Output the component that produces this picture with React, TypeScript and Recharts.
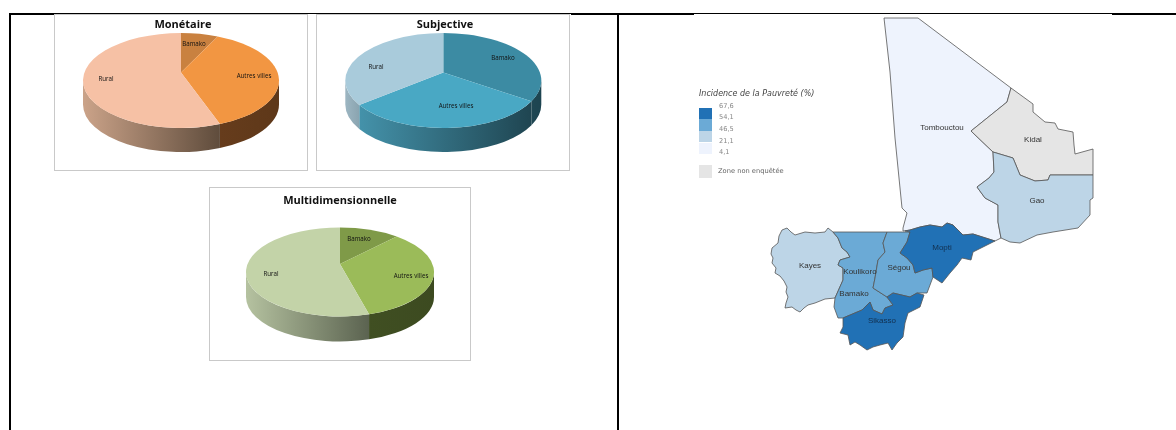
import React from "react";
import { PieChart, Pie, ScatterChart, Scatter, XAxis, YAxis } from "recharts";

// ---- data ----
const sliceNames = ["Bamako", "Autres villes", "Rural"];
const monetaireValues = [6.1, 37.4, 56.5];
const subjectiveValues = [32.2, 34.2, 33.6];
const multiValues = [10.3, 34.7, 55];

const legendTitle = "Incidence de la Pauvreté (%)";
const legendLabels = ["67,6", "54,1", "46,5", "21,1", "4,1"];
const legendOther = "Zone non enquêtée";

const tombouctou = [[884,18],[918,18],[1011,88],[1007,102],[971,131],[993,152],[994,172],[989,178],[977,187],[985,198],[998,205],[998,222],[1001,238],[995,241],[973,234],[963,235],[953,225],[947,223],[942,227],[930,225],[920,227],[910,230],[903,231],[903,228],[907,213],[902,208],[895,138],[890,72]];
const kidal = [[1011,88],[1033,104],[1033,112],[1045,122],[1055,123],[1058,129],[1073,132],[1074,145],[1075,154],[1093,149],[1093,175],[1050,175],[1048,180],[1035,181],[1020,175],[1013,158],[993,152],[971,131],[1007,102]];
const gao = [[993,152],[1013,158],[1020,175],[1035,181],[1048,180],[1050,175],[1093,175],[1093,198],[1090,200],[1090,215],[1078,228],[1053,232],[1037,235],[1020,243],[1010,242],[1001,238],[998,222],[998,205],[985,198],[977,187],[989,178],[994,172]];
const kayes = [[828,228],[833,232],[838,238],[842,248],[847,252],[850,257],[840,260],[838,265],[843,268],[843,280],[835,298],[825,299],[815,303],[808,305],[804,308],[800,312],[796,310],[792,307],[785,308],[786,303],[788,297],[786,292],[787,287],[784,281],[780,276],[775,273],[776,268],[772,263],[773,258],[771,254],[772,248],[778,243],[779,236],[782,230],[787,228],[791,232],[795,235],[805,232],[815,233],[825,232]];
const koulikoro = [[833,232],[887,232],[883,243],[885,252],[878,260],[875,278],[873,288],[887,297],[893,305],[885,308],[882,314],[873,310],[870,302],[862,310],[843,318],[838,318],[834,307],[835,298],[843,280],[843,268],[838,265],[840,260],[850,257],[847,252],[842,248],[838,238]];
const segou = [[887,232],[910,232],[907,242],[900,253],[907,258],[913,265],[915,273],[923,270],[932,268],[933,277],[927,293],[917,293],[910,297],[893,293],[887,297],[873,288],[875,278],[878,260],[885,252],[883,243]];
const mopti = [[905,231],[910,230],[920,227],[930,225],[942,227],[947,223],[953,225],[963,235],[973,234],[995,241],[973,252],[971,260],[962,258],[957,265],[950,273],[942,283],[933,277],[932,268],[923,270],[915,273],[913,265],[907,258],[900,253],[907,242],[910,232]];
const sikasso = [[870,302],[873,310],[882,314],[885,308],[893,305],[887,297],[893,293],[910,297],[917,293],[924,295],[920,307],[908,313],[905,323],[903,337],[897,343],[892,350],[888,343],[880,345],[873,347],[867,350],[860,345],[855,342],[850,345],[848,335],[840,333],[843,327],[843,318],[862,310]];

const regionNames = ["Tombouctou","Kidal","Gao","Kayes","Koulikoro","Ségou","Mopti","Sikasso","Bamako"];
const regionLabelSpots = [[942,127],[1033,139],[1037,200],[810,265],[860,271],[899,267],[942,247],[882,320],[854,293]];

// ---- styles and layout ----
const regionShapes = [
  { pts: tombouctou, fill: "#eef3fd" },
  { pts: kidal, fill: "#e5e5e5" },
  { pts: gao, fill: "#bdd5e7" },
  { pts: kayes, fill: "#bdd5e7" },
  { pts: koulikoro, fill: "#6baad6" },
  { pts: segou, fill: "#6baad6" },
  { pts: mopti, fill: "#2171b5" },
  { pts: sikasso, fill: "#2171b5" },
];
const legendFills = ["#2171b5", "#6baad6", "#bdd5e7", "#eef3fd"];

const pies = [
  {
    id: "mon", title: "Monétaire", values: monetaireValues,
    box: { x: 54, y: 14, w: 254, h: 157 }, titleY: 24, titleX: 183,
    cx: 181, cy: 80.5, rx: 98, ry: 47.5, depth: 24, apex: 8,
    top: ["#c98140", "#f29642", "#f6c1a5"],
    side: [["#7a4a20", "#7a4a20"], ["#663c1c", "#5e3819"], ["#cba389", "#5f4c3c"]],
    spots: [[194, 43], [254, 75], [106, 78]],
  },
  {
    id: "sub", title: "Subjective", values: subjectiveValues,
    box: { x: 316, y: 14, w: 254, h: 157 }, titleY: 24, titleX: 445,
    cx: 443.3, cy: 80.5, rx: 98, ry: 47.5, depth: 24, apex: 8,
    top: ["#3c8ba3", "#49a8c4", "#a9cbdb"],
    side: [["#1f4753", "#1d4450"], ["#4492aa", "#1f4551"], ["#9db6c2", "#8aa4b0"]],
    spots: [[503, 57], [456, 105], [376, 66.5]],
  },
  {
    id: "mul", title: "Multidimensionnelle", values: multiValues,
    box: { x: 209, y: 187, w: 262, h: 174 }, titleY: 200, titleX: 340,
    cx: 340, cy: 272, rx: 94, ry: 44.5, depth: 25, apex: 8,
    top: ["#7f9a48", "#9bbb59", "#c3d3a8"],
    side: [["#404f22", "#404f22"], ["#404f22", "#3c4a20"], ["#b5c2a0", "#5b6350"]],
    spots: [[359, 238], [411, 275], [271, 273]],
  },
];

const fontSans = "'Open Sans', 'Liberation Sans', sans-serif";
const soften = "blur(0.4px)";

function ellipseSector(props: any, p: any, index: number) {
  const { startAngle, endAngle } = props;
  const cx = p.cx, cy = p.cy;
  const rad = (a: number) => (a * Math.PI) / 180;
  const pt = (a: number, dy = 0) => [cx + p.rx * Math.cos(rad(a)), cy - p.ry * Math.sin(rad(a)) + dy];
  const a0 = Math.max(startAngle, endAngle);
  const a1 = Math.min(startAngle, endAngle);
  const [sx, sy] = pt(a0);
  const [ex, ey] = pt(a1);
  const large = a0 - a1 > 180 ? 1 : 0;
  const topPath = `M${cx},${cy - p.apex}L${sx},${sy}A${p.rx},${p.ry} 0 ${large} 1 ${ex},${ey}Z`;

  // the wall shows only where the arc is in the lower half of the ellipse (angles -180..0)
  let wall = null;
  const lo = Math.max(a1, -180);
  const hi = Math.min(a0, 0);
  const gid = `${p.id}-wall-${index}`;
  let gx0 = 0, gx1 = 0;
  if (hi > lo) {
    const [wx0, wy0] = pt(hi);
    const [wx1, wy1] = pt(lo);
    gx0 = Math.min(wx0, wx1);
    gx1 = Math.max(wx0, wx1);
    const large2 = hi - lo > 180 ? 1 : 0;
    const d = `M${wx0},${wy0}A${p.rx},${p.ry} 0 ${large2} 1 ${wx1},${wy1}L${wx1},${wy1 + p.depth}A${p.rx},${p.ry} 0 ${large2} 0 ${wx0},${wy0 + p.depth}Z`;
    wall = <path d={d} fill={`url(#${gid})`} />;
  }
  const [c0, c1] = p.side[index];
  return (
    <g>
      <defs>
        <linearGradient id={gid} gradientUnits="userSpaceOnUse" x1={gx0} x2={gx1} y1={0} y2={0}>
          <stop offset="0%" stopColor={c0} />
          <stop offset="100%" stopColor={c1} />
        </linearGradient>
      </defs>
      {wall}
      <path d={topPath} fill={p.top[index]} />
    </g>
  );
}

function PieBlock({ p }: { p: (typeof pies)[number] }) {
  const data = sliceNames.map((name, i) => ({ name, value: p.values[i] }));
  const shape = (props: any) => ellipseSector(props, p, props.index ?? data.findIndex((d) => d.name === props.name));
  return (
    <PieChart width={1176} height={430} style={{ position: "absolute", left: 0, top: 0, filter: soften }} margin={{ top: 0, right: 0, bottom: 0, left: 0 }}>
      <Pie
        data={data}
        dataKey="value"
        nameKey="name"
        cx={p.cx}
        cy={p.cy}
        innerRadius={0}
        outerRadius={p.rx}
        startAngle={90}
        endAngle={-270}
        stroke="none"
        isAnimationActive={false}
        shape={shape}
        labelLine={false}
        label={(lp: any) => (
          <text x={p.spots[lp.index][0]} y={p.spots[lp.index][1]} textAnchor="middle" dominantBaseline="central" fontSize={6.2} fontFamily={fontSans} fill="#111">
            {lp.name}
          </text>
        )}
      />
    </PieChart>
  );
}

const noDot = () => <g />;

function MapBlock() {
  const labelData = regionNames.map((name, i) => ({ name, x: regionLabelSpots[i][0], y: regionLabelSpots[i][1] }));
  return (
    <ScatterChart width={1176} height={430} style={{ position: "absolute", left: 0, top: 0, filter: soften }} margin={{ top: 0, right: 0, bottom: 0, left: 0 }}>
      <XAxis type="number" dataKey="x" domain={[0, 1176]} hide />
      <YAxis type="number" dataKey="y" domain={[0, 430]} reversed hide />
      {regionShapes.map((r, i) => (
        <Scatter
          key={i}
          data={r.pts.map(([x, y]) => ({ x, y }))}
          isAnimationActive={false}
          shape={noDot}
          line={(lp: any) => (
            <polygon
              points={(lp.points || []).map((q: any) => `${q.x},${q.y}`).join(" ")}
              fill={r.fill}
              stroke="#555"
              strokeWidth={0.8}
              strokeLinejoin="round"
            />
          )}
        />
      ))}
      <Scatter
        data={labelData}
        isAnimationActive={false}
        shape={(sp: any) => (
          <text x={sp.cx} y={sp.cy} textAnchor="middle" dominantBaseline="central" fontSize={8} fontFamily="'Liberation Sans', sans-serif" fill={sp.payload.name === "Mopti" || sp.payload.name === "Sikasso" ? "#12304f" : "#333"}>
            {sp.payload.name}
          </text>
        )}
      />
    </ScatterChart>
  );
}

const abs = (x: number, y: number, w: number, h: number, bg: string): React.CSSProperties => ({ position: "absolute", left: x, top: y, width: w, height: h, background: bg });
const legendText: React.CSSProperties = { position: "absolute", fontFamily: "'DejaVu Sans', sans-serif", fontSize: 6.6, color: "#888", lineHeight: "10px", whiteSpace: "nowrap", filter: soften };

export default function App() {
  return (
    <div style={{ position: "fixed", left: 0, top: 0, width: 1176, height: 430, background: "#fff", overflow: "hidden" }}>
      {/* table rules */}
      <div style={abs(8.5, 12.5, 46, 2, "#000")} />
      <div style={abs(54, 12.5, 517, 1, "#000")} />
      <div style={abs(571, 12.5, 123, 2, "#000")} />
      <div style={abs(694, 12.5, 418, 1, "#000")} />
      <div style={abs(1112, 12.5, 64, 2, "#000")} />
      <div style={abs(8.5, 12.5, 2, 418, "#000")} />
      <div style={abs(616.5, 12.5, 2, 418, "#000")} />

      {/* chart frames */}
      {pies.map((p) => (
        <div key={p.id} style={{ position: "absolute", left: p.box.x, top: p.box.y, width: p.box.w, height: p.box.h, boxSizing: "border-box", border: "1px solid #c9c9c9", background: "#fff" }} />
      ))}
      {pies.map((p) => (
        <PieBlock key={p.id} p={p} />
      ))}
      {pies.map((p) => (
        <div key={p.id} style={{ position: "absolute", left: p.titleX - 100, width: 200, top: p.titleY - 8, height: 16, lineHeight: "16px", textAlign: "center", fontFamily: fontSans, fontWeight: 700, fontSize: 11, color: "#111", filter: soften }}>
          {p.title}
        </div>
      ))}

      <MapBlock />

      {/* map legend */}
      <div style={{ ...legendText, left: 699, top: 89, fontStyle: "italic", fontSize: 8, color: "#444" }}>{legendTitle}</div>
      {legendFills.map((c, i) => (
        <div key={c} style={abs(699, 107.7 + i * 11.6, 13.3, 11.6, c)} />
      ))}
      {legendLabels.map((t, i) => (
        <div key={t} style={{ ...legendText, left: 719, top: 100.7 + i * 11.6 }}>{t}</div>
      ))}
      <div style={abs(699, 165, 13.3, 13, "#e5e5e5")} />
      <div style={{ ...legendText, left: 718, top: 166, fontSize: 6.7, color: "#666" }}>{legendOther}</div>
    </div>
  );
}
